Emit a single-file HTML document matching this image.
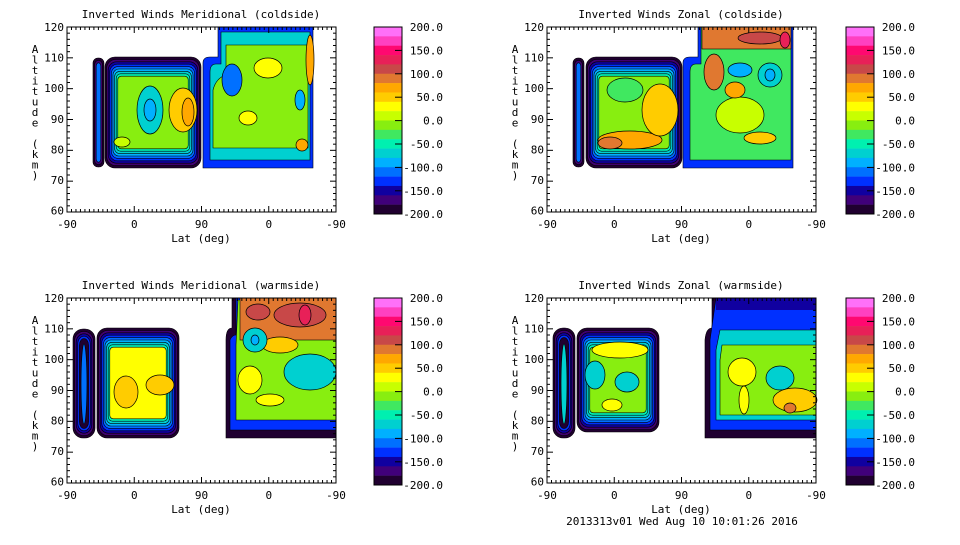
<!DOCTYPE html>
<html><head><meta charset="utf-8"><style>
body{margin:0;background:#fff;width:960px;height:540px;overflow:hidden}
text{font-family:"DejaVu Sans Mono","Liberation Mono",monospace;font-size:11px;fill:#000}
</style></head><body>
<svg id="s" width="960" height="540" xmlns="http://www.w3.org/2000/svg"></svg>
<script>
const S=document.getElementById('s');let h='';
const cb=['#ff70f8','#ff40c0','#ff0870','#e82058','#c84848','#e07830','#ffa800','#ffcc00','#ffff00','#c8ff00','#88ee10','#40e860','#00f0b0','#00d0d0','#00b0ff','#0070ff','#0030ff','#1000a0','#40007a','#200030'];
const L=['#200030','#400070','#1000a0','#0030ff','#0070ff','#00b0ff','#00d0d0','#00f0b0','#40e860','#88ee10'];
function blob(x1,y1,x2,y2,n,inner,rx){
 rx=rx||8;
 for(let i=0;i<n;i++){let dx=i*1.6,dy=i*2.4;let c=i<n-1?L[i]:inner;
  h+=`<rect x="${x1+dx}" y="${y1+dy}" width="${Math.max(1,x2-x1-2*dx)}" height="${Math.max(1,y2-y1-2*dy)}" rx="${Math.max(1,rx-dx/2)}" fill="${c}" stroke="#000" stroke-width="0.6"/>`;}
}
function el(cx,cy,rx,ry,c){h+=`<ellipse cx="${cx}" cy="${cy}" rx="${rx}" ry="${ry}" fill="${c}" stroke="#000" stroke-width="0.7"/>`;}
function axes(ox,oy,title,foot){
 const x0=ox,x1=ox+269,y0=oy,y1=oy+185;
 h+=`<rect x="${x0}" y="${y0}" width="269" height="185" fill="none" stroke="#000"/>`;
 for(let k=0;k<=30;k++){let y=y1-k*185/30;let len=k%5==0?6:3;
  h+=`<line x1="${x0}" x2="${x0+len}" y1="${y}" y2="${y}" stroke="#000"/><line x1="${x1}" x2="${x1-len}" y1="${y}" y2="${y}" stroke="#000"/>`;}
 for(let k=0;k<=60;k++){let x=x0+k*269/60;let len=k%15==0?6:3;
  h+=`<line x1="${x}" x2="${x}" y1="${y1}" y2="${y1-len}" stroke="#000"/><line x1="${x}" x2="${x}" y1="${y0}" y2="${y0+len}" stroke="#000"/>`;}
 ['120','110','100','90','80','70','60'].forEach((t,i)=>{h+=`<text x="${x0-3}" y="${y0+4+i*30.6}" text-anchor="end">${t}</text>`;});
 ['-90','0','90','0','-90'].forEach((t,i)=>{h+=`<text x="${x0+i*67.25}" y="${y1+16}" text-anchor="middle">${t}</text>`;});
 h+=`<text x="${x0+134}" y="${y1+30}" text-anchor="middle">Lat (deg)</text>`;
 h+=`<text x="${x0+134}" y="${y0-9}" text-anchor="middle">${title}</text>`;
 'Altitude (km)'.split('').forEach((c,i)=>{h+=`<text x="${x0-32}" y="${y0+26+i*10.5}" text-anchor="middle">${c}</text>`;});
}
function bar(ox,oy){
 for(let i=0;i<20;i++)h+=`<rect x="${ox}" y="${oy+i*9.35}" width="28" height="9.6" fill="${cb[i]}"/>`;
 h+=`<rect x="${ox}" y="${oy}" width="28" height="187" fill="none" stroke="#000"/>`;
 ['200.0','150.0','100.0','50.0','0.0','-50.0','-100.0','-150.0','-200.0'].forEach((t,i)=>{let y=oy+i*23.4;
  h+=`<text x="${ox+69}" y="${y+4}" text-anchor="end">${t}</text>`;
  if(i>0&&i<8)h+=`<line x1="${ox+21}" x2="${ox+28}" y1="${y}" y2="${y}" stroke="#000"/>`;});
}
// TL
blob(93,58,104,167,3,'#0070ff',5);
blob(105,57,201,168,9,'#88ee10',10);
el(150,110,13,24,'#00d0d0');el(150,110,6,11,'#00b0ff');
el(183,110,14,22,'#ffcc00');el(188,112,6,14,'#ffa800');
el(122,142,8,5,'#c8ff00');
h+=`<path d="M218,27 H313 V168 H203 V63 Q203,57 210,57 H218Z" fill="#0030ff" stroke="#000" stroke-width=".6"/>`;
h+=`<path d="M221,32 H310 V160 H210 V72 Q210,64 216,64 H221Z" fill="#00d0d0" stroke="#000" stroke-width=".6"/>`;
h+=`<path d="M226,45 H308 V148 H213 V90 Q216,78 226,75Z" fill="#88ee10" stroke="#000" stroke-width=".6"/>`;
el(232,80,10,16,'#0070ff');el(268,68,14,10,'#ffff00');el(310,60,4,25,'#ffa800');el(248,118,9,7,'#ffff00');el(300,100,5,10,'#00b0ff');el(302,145,6,6,'#ffa800');
// TR
blob(573,58,584,167,3,'#0070ff',5);
blob(586,57,682,168,9,'#88ee10',10);
el(630,140,32,9,'#ffa800');el(610,143,12,6,'#e07830');
el(660,110,18,26,'#ffcc00');el(625,90,18,12,'#40e860');
h+=`<path d="M698,27 H793 V168 H683 V63 Q683,57 690,57 H698Z" fill="#0030ff" stroke="#000" stroke-width=".6"/>`;
h+=`<path d="M701,27 H791 V160 H690 V72 Q690,64 696,64 H701Z" fill="#40e860" stroke="#000" stroke-width=".6"/>`;
h+=`<rect x="702" y="27" width="89" height="22" fill="#e07830" stroke="#000" stroke-width=".6"/>`;
el(760,38,22,6,'#c84848');el(785,40,5,8,'#e82058');
el(714,72,10,18,'#e07830');el(740,115,24,18,'#c8ff00');el(735,90,10,8,'#ffa800');
el(740,70,12,7,'#00b0ff');el(770,75,12,12,'#00d0d0');el(770,75,5,6,'#00b0ff');el(760,138,16,6,'#ffcc00');
// BL
blob(73,329,95,438,5,'#200030',10);el(84,384,3,40,'#0070ff');
blob(97,328,179,438,9,'#ffff00',10);
el(126,392,12,16,'#ffcc00');el(160,385,14,10,'#ffcc00');
h+=`<path d="M232,298 H336 V438 H226 V340 Q226,328 232,328Z" fill="#200030" stroke="#000" stroke-width=".6"/>`;
h+=`<path d="M236,298 H336 V430 H230 V340 Q232,335 236,335Z" fill="#0030ff" stroke="#000" stroke-width=".6"/>`;
h+=`<path d="M238,300 H336 V420 H236 V345Z" fill="#88ee10" stroke="#000" stroke-width=".6"/>`;
h+=`<rect x="240" y="298" width="96" height="42" fill="#e07830" stroke="#000" stroke-width=".6"/>`;
el(300,315,26,12,'#c84848');el(305,315,6,10,'#e82058');el(258,312,12,8,'#c84848');
el(280,345,18,8,'#ffcc00');el(255,340,12,12,'#00d0d0');el(255,340,4,5,'#00b0ff');
el(310,372,26,18,'#00d0d0');el(250,380,12,14,'#ffff00');el(270,400,14,6,'#ffff00');
// BR
blob(553,328,575,438,5,'#200030',10);el(564,384,3,40,'#00d0d0');
blob(577,328,659,432,9,'#88ee10',10);
el(620,350,28,8,'#ffff00');el(595,375,10,14,'#00d0d0');el(627,382,12,10,'#00d0d0');el(612,405,10,6,'#ffff00');
h+=`<path d="M712,298 H816 V438 H705 V340 Q706,328 712,328Z" fill="#200030" stroke="#000" stroke-width=".6"/>`;
h+=`<path d="M716,298 H816 V430 H710 V340Z" fill="#0030ff" stroke="#000" stroke-width=".6"/>`;
h+=`<path d="M720,330 H816 V420 H716 V350Z" fill="#00d0d0" stroke="#000" stroke-width=".6"/>`;
h+=`<path d="M722,345 H816 V415 H720 V360Z" fill="#88ee10" stroke="#000" stroke-width=".6"/>`;
el(742,372,14,14,'#ffff00');el(744,400,5,14,'#ffff00');el(780,378,14,12,'#00d0d0');el(795,400,22,12,'#ffcc00');el(790,408,6,5,'#e07830');
h+=`<rect x="716" y="298" width="100" height="12" fill="#1000a0"/>`;
axes(67,27,'Inverted Winds Meridional (coldside)');
axes(547,27,'Inverted Winds Zonal (coldside)');
axes(67,298,'Inverted Winds Meridional (warmside)');
axes(547,298,'Inverted Winds Zonal (warmside)');
bar(374,27);bar(846,27);bar(374,298);bar(846,298);
h+=`<text x="682" y="525" text-anchor="middle">2013313v01 Wed Aug 10 10:01:26 2016</text>`;
S.innerHTML=h;
</script>
</body></html>
